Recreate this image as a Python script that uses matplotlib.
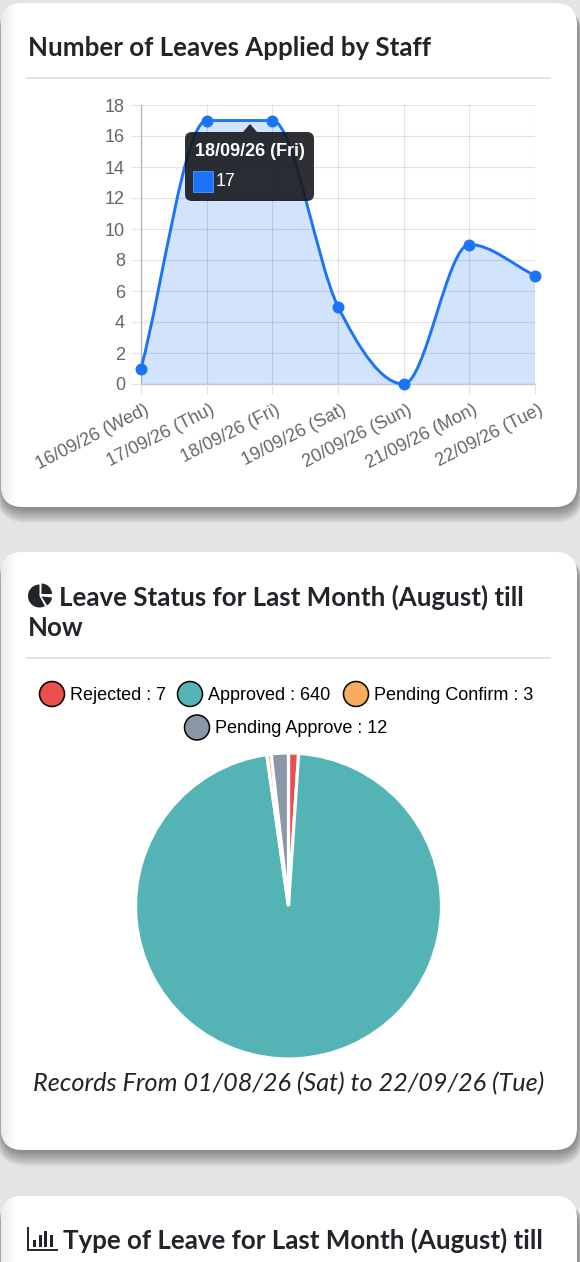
import numpy as np
import matplotlib
matplotlib.use("Agg")
import matplotlib.pyplot as plt
from matplotlib.patches import FancyBboxPatch, PathPatch, Circle, Wedge, Rectangle, Polygon
from matplotlib.path import Path
from matplotlib.transforms import ScaledTranslation

W, H = 580, 1262

days = ["16/09/26 (Wed)", "17/09/26 (Thu)", "18/09/26 (Fri)", "19/09/26 (Sat)",
        "20/09/26 (Sun)", "21/09/26 (Mon)", "22/09/26 (Tue)"]
leaves = [1, 17, 17, 5, 0, 9, 7]
y_ticks = [0, 2, 4, 6, 8, 10, 12, 14, 16, 18]

status_names = ["Rejected", "Approved", "Pending Confirm", "Pending Approve"]
status_counts = [7, 640, 3, 12]
status_colors = ["#e94f4b", "#54b3b4", "#f6ad5f", "#8b97a7"]

BLUE = "#1a73f8"
DARK = "#212529"
SANS = "Liberation Sans"
TITLE = "Lato"
TITLE_SIZE = 18.6
BODY_SIZE = 13


def px_axes(left, top, right, bottom, **kw):
    # axes placed by pixel box, y counted from the top of the image
    return fig.add_axes([left / W, 1 - bottom / H, (right - left) / W, (bottom - top) / H], **kw)


def monotone_path(xs, ys):
    # same monotone cubic that chart.js uses, returned as bezier segments
    xs = np.asarray(xs, float)
    ys = np.asarray(ys, float)
    delta = np.diff(ys) / np.diff(xs)
    m = np.zeros(len(xs))
    m[0], m[-1] = delta[0], delta[-1]
    for i in range(1, len(xs) - 1):
        if delta[i - 1] * delta[i] > 0:
            m[i] = (delta[i - 1] + delta[i]) / 2
    for i in range(len(delta)):
        if delta[i] == 0:
            m[i] = m[i + 1] = 0
            continue
        a, b = m[i] / delta[i], m[i + 1] / delta[i]
        s = a * a + b * b
        if s > 9:
            t = 3 / np.sqrt(s)
            m[i] = t * a * delta[i]
            m[i + 1] = t * b * delta[i]
    verts = [(xs[0], ys[0])]
    for i in range(len(delta)):
        dx = (xs[i + 1] - xs[i]) / 3
        verts += [(xs[i] + dx, ys[i] + m[i] * dx),
                  (xs[i + 1] - dx, ys[i + 1] - m[i + 1] * dx),
                  (xs[i + 1], ys[i + 1])]
    return verts


def card(ax, top, bottom):
    x0, x1 = 1, 577
    # soft drop shadow, stacked outlines
    for i in range(18, 0, -1):
        ax.add_patch(FancyBboxPatch((x0 - i * 0.4 + 2, top + 5), x1 - x0 + i * 0.8 - 2, bottom - top + i * 0.85 - 4,
                                    boxstyle="round,pad=0,rounding_size=%.1f" % (22 + i * 0.5),
                                    lw=0, fc="black", alpha=0.024, zorder=1))
    face = FancyBboxPatch((x0, top), x1 - x0, bottom - top, boxstyle="round,pad=0,rounding_size=22",
                          lw=0, fc="white", zorder=2)
    ax.add_patch(face)
    # faint grey fade on the left edge of each card
    grad = np.linspace(0.92, 1, 16)[None, :]
    im = ax.imshow(grad, extent=(x0, x0 + 16, bottom, top), cmap="gray", vmin=0, vmax=1,
                   aspect="auto", zorder=3)
    im.set_clip_path(face)


fig = plt.figure(figsize=(W / 100, H / 100), dpi=100, facecolor="#e4e4e4")

bg = px_axes(0, 0, W, H, zorder=0)
bg.axis("off")

card(bg, 3, 507)
card(bg, 552, 1150)
card(bg, 1196, 1300)
bg.set_xlim(0, W)
bg.set_ylim(H, 0)

# card headings
bg.text(28, 48.5, "Number of Leaves Applied by Staff", family=TITLE, weight="bold", fontsize=TITLE_SIZE,
        color=DARK, va="center", zorder=5)
bg.plot([27, 550], [77.5, 77.5], color="#dedede", lw=1.2, zorder=5)

bg.text(59, 597, "Leave Status for Last Month (August) till", family=TITLE, weight="bold", fontsize=TITLE_SIZE,
        color=DARK, va="center", zorder=5)
bg.text(28, 628, "Now", family=TITLE, weight="bold", fontsize=TITLE_SIZE, color=DARK, va="center", zorder=5)
bg.plot([27, 550], [658, 658], color="#dedede", lw=1.2, zorder=5)

# pie icon
bg.add_patch(Wedge((39.5, 596), 11.5, 62, 270, fc=DARK, lw=0, zorder=5))
bg.add_patch(Wedge((41.5, 594), 10.5, -90, 0, fc=DARK, lw=0, zorder=5))
bg.add_patch(Wedge((41.5, 596.5), 10.5, 5, 58, fc=DARK, lw=0, zorder=5))

bg.text(63, 1240, "Type of Leave for Last Month (August) till", family=TITLE, weight="bold", fontsize=TITLE_SIZE,
        color=DARK, va="center", zorder=5)
# bar icon
bg.plot([28, 28, 57], [1228, 1250, 1250], color=DARK, lw=1.4, zorder=5, solid_joinstyle="miter")
for bx, bh in zip([33, 38.5, 44, 50], [7, 12, 16, 12]):
    bg.add_patch(Rectangle((bx, 1247 - bh), 3.2, bh, fc=DARK, lw=0, zorder=5))

# line chart
ax = px_axes(141, 105, 535, 384, zorder=2)
ax.patch.set_alpha(0)
xs = np.arange(len(days))
ax.set_xlim(xs[0], xs[-1])
ax.set_ylim(y_ticks[0], y_ticks[-1])
ax.set_xticks(xs)
ax.set_yticks(y_ticks)
ax.set_xticklabels(days, rotation=27, ha="right", rotation_mode="anchor", family=SANS, fontsize=BODY_SIZE, color="#666666")
ax.set_yticklabels(y_ticks, family=SANS, fontsize=BODY_SIZE, color="#666666")
ax.tick_params(axis="both", length=7.5, width=0.8, color="#e2e2e2")
ax.tick_params(axis="y", pad=4)
ax.tick_params(axis="x", pad=5)
shift = ScaledTranslation(3 / 100, 0, fig.dpi_scale_trans)
for lab in ax.get_xticklabels():
    lab.set_transform(lab.get_transform() + shift)
ax.grid(True, color="black", alpha=0.11, lw=0.8)
ax.set_axisbelow(False)
for side, sp in ax.spines.items():
    sp.set_visible(side in ("left", "bottom"))
    sp.set_color("#c6c6c6")
    sp.set_linewidth(1.0)

verts = monotone_path(xs, leaves)
codes = [Path.MOVETO] + [Path.CURVE4] * (len(verts) - 1)
fill_verts = verts + [(xs[-1], 0), (xs[0], 0), (xs[0], leaves[0])]
fill_codes = codes + [Path.LINETO, Path.LINETO, Path.LINETO]
ax.add_patch(PathPatch(Path(fill_verts, fill_codes), fc=BLUE, alpha=0.2, lw=0, zorder=2))
ax.add_patch(PathPatch(Path(verts, codes), fc="none", ec=BLUE, lw=2.1, zorder=3, clip_on=False))
ax.plot(xs, leaves, ls="", marker="o", ms=8.6, color=BLUE, mew=0, zorder=4, clip_on=False)

# tooltip over the chart
top = px_axes(0, 0, W, H, zorder=4)
top.set_xlim(0, W)
top.set_ylim(H, 0)
top.axis("off")
top.add_patch(FancyBboxPatch((185, 132), 129, 69, boxstyle="round,pad=0,rounding_size=7", fc="#17191d", alpha=0.9, lw=0))
top.add_patch(Polygon([(243, 132), (250, 124), (257, 132)], closed=True, fc="#17191d", alpha=0.9, lw=0))
top.text(250, 151, days[2], family=SANS, weight="bold", fontsize=BODY_SIZE, color="white", ha="center", va="center")
top.add_patch(Rectangle((192.5, 171), 20.5, 21, fc=BLUE, ec="#4d90f0", lw=0.7))
top.text(216, 181.5, str(leaves[2]), family=SANS, fontsize=BODY_SIZE, color="white", va="center")

# legend rows
legend_rows = [(0, 52, 694), (1, 190, 694), (2, 356, 694), (3, 197, 727.5)]
for i, cx, cy in legend_rows:
    bg.add_patch(Circle((cx, cy), 12.5, fc=status_colors[i], ec="black", lw=1.1, zorder=5))
    bg.text(cx + 18, cy + 1, f"{status_names[i]} : {status_counts[i]}", family=SANS, fontsize=BODY_SIZE,
            color="black", va="center", zorder=5)

# pie
pie_ax = px_axes(288.5 - 153, 906 - 153, 288.5 + 153, 906 + 153, zorder=2)
pie_ax.pie(status_counts, colors=status_colors, startangle=90, counterclock=False, radius=1,
           wedgeprops=dict(edgecolor="white", linewidth=2.3))
pie_ax.set_xlim(-1, 1)
pie_ax.set_ylim(-1, 1)

bg.text(288.5, 1083.5, "Records From 01/08/26 (Sat) to 22/09/26 (Tue)", family=TITLE, style="italic", fontsize=18.2,
        color=DARK, ha="center", va="center", zorder=5)

fig.savefig("out.png", dpi=100, facecolor=fig.get_facecolor())
